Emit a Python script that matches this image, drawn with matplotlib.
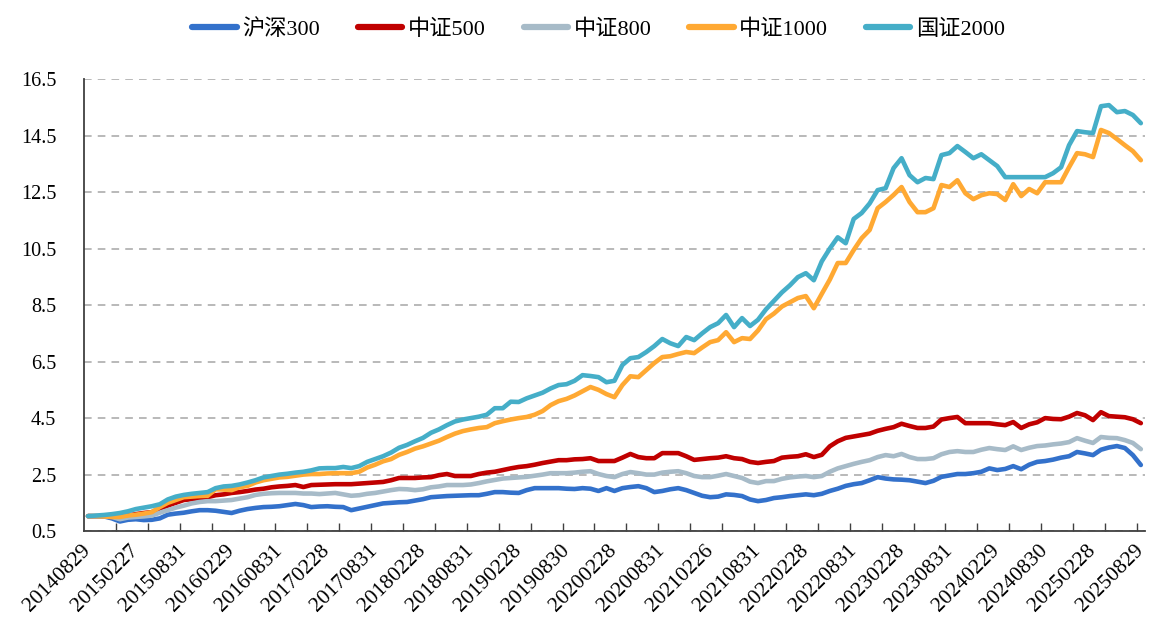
import matplotlib
matplotlib.use('Agg')
import matplotlib.pyplot as plt
from matplotlib.ticker import FixedLocator

plt.rcParams['font.family'] = ['Liberation Serif', 'Noto Sans CJK SC']
plt.rcParams['axes.unicode_minus'] = False

# 月度净值（2014-08-29 ~ 2025-08-29，共133个月末）
tick_labels = ['20140829', '20150227', '20150831', '20160229', '20160831', '20170228',
               '20170831', '20180228', '20180831', '20190228', '20190830', '20200228',
               '20200831', '20210226', '20210831', '20220228', '20220831', '20230228',
               '20230831', '20240229', '20240830', '20250228', '20250829']

hs300 = [1.03, 1.02, 1.02, 0.95, 0.84, 0.90, 0.92, 0.89, 0.90, 0.95, 1.08, 1.12, 1.15, 1.20, 1.24, 1.24,
         1.22, 1.18, 1.14, 1.22, 1.28, 1.32, 1.35, 1.36, 1.38, 1.42, 1.46, 1.42, 1.35, 1.37, 1.38, 1.36,
         1.35, 1.24, 1.30, 1.36, 1.42, 1.48, 1.50, 1.52, 1.53, 1.58, 1.63, 1.70, 1.72, 1.74, 1.75, 1.76,
         1.77, 1.77, 1.82, 1.88, 1.88, 1.86, 1.85, 1.95, 2.02, 2.02, 2.02, 2.02, 2.00, 1.99, 2.02, 2.00,
         1.92, 2.02, 1.92, 2.02, 2.06, 2.09, 2.02, 1.88, 1.92, 1.98, 2.02, 1.95, 1.85, 1.75, 1.70, 1.72,
         1.80, 1.78, 1.74, 1.62, 1.56, 1.60, 1.67, 1.70, 1.74, 1.77, 1.80, 1.77, 1.82, 1.92, 2.00, 2.10,
         2.16, 2.20, 2.30, 2.41, 2.36, 2.33, 2.32, 2.30, 2.25, 2.20, 2.28, 2.42, 2.47, 2.52, 2.52, 2.55,
         2.60, 2.72, 2.66, 2.70, 2.80, 2.69, 2.85, 2.95, 2.98, 3.03, 3.10, 3.15, 3.30, 3.25, 3.19, 3.38,
         3.46, 3.51, 3.44, 3.19, 2.84]

zz500 = [1.03, 1.03, 1.02, 1.00, 1.00, 1.05, 1.10, 1.14, 1.17, 1.30, 1.40, 1.50, 1.60, 1.63, 1.67, 1.70,
         1.77, 1.80, 1.85, 1.88, 1.92, 1.97, 2.00, 2.05, 2.08, 2.10, 2.13, 2.06, 2.13, 2.14, 2.15, 2.16,
         2.16, 2.16, 2.18, 2.20, 2.22, 2.24, 2.30, 2.38, 2.38, 2.38, 2.40, 2.41, 2.48, 2.52, 2.45, 2.45,
         2.45, 2.52, 2.57, 2.60, 2.66, 2.72, 2.77, 2.80, 2.85, 2.91, 2.96, 3.01, 3.01, 3.04, 3.05, 3.08,
         2.98, 2.98, 2.98, 3.10, 3.23, 3.12, 3.08, 3.08, 3.26, 3.26, 3.26, 3.15, 3.02, 3.05, 3.08, 3.10,
         3.15, 3.08, 3.05, 2.95, 2.91, 2.95, 2.98, 3.10, 3.13, 3.15, 3.22, 3.12, 3.20, 3.50, 3.68, 3.80,
         3.85, 3.90, 3.95, 4.05, 4.12, 4.18, 4.30, 4.22, 4.15, 4.15, 4.20, 4.45, 4.50, 4.54, 4.32, 4.32,
         4.32, 4.32, 4.28, 4.25, 4.36, 4.15, 4.28, 4.35, 4.50, 4.47, 4.46, 4.55, 4.68, 4.60, 4.43, 4.71,
         4.57, 4.55, 4.53, 4.46, 4.32]

zz800 = [1.03, 1.02, 1.02, 1.00, 0.92, 0.98, 1.00, 1.02, 1.05, 1.15, 1.24, 1.33, 1.40, 1.48, 1.53, 1.56,
         1.56, 1.58, 1.60, 1.65, 1.70, 1.78, 1.82, 1.84, 1.85, 1.85, 1.85, 1.83, 1.83, 1.81, 1.83, 1.85,
         1.80, 1.75, 1.77, 1.82, 1.85, 1.90, 1.95, 1.99, 1.98, 1.95, 1.98, 2.05, 2.08, 2.13, 2.13, 2.13,
         2.15, 2.20, 2.26, 2.31, 2.36, 2.38, 2.40, 2.42, 2.46, 2.50, 2.55, 2.55, 2.55, 2.57, 2.60, 2.62,
         2.52, 2.45, 2.41, 2.52, 2.59, 2.55, 2.50, 2.50, 2.57, 2.60, 2.62, 2.55, 2.45, 2.41, 2.41, 2.46,
         2.52, 2.45, 2.38, 2.25, 2.20, 2.27, 2.27, 2.35, 2.40, 2.43, 2.45, 2.41, 2.45, 2.60, 2.72, 2.80,
         2.88, 2.95, 3.01, 3.12, 3.19, 3.15, 3.23, 3.12, 3.05, 3.05, 3.08, 3.22, 3.30, 3.33, 3.30, 3.30,
         3.38, 3.44, 3.40, 3.37, 3.50, 3.37, 3.45, 3.51, 3.53, 3.57, 3.60, 3.65, 3.79, 3.70, 3.62, 3.83,
         3.80, 3.79, 3.72, 3.62, 3.40]

zz1000 = [1.03, 1.03, 1.02, 1.00, 1.00, 1.05, 1.08, 1.12, 1.17, 1.35, 1.50, 1.60, 1.70, 1.72, 1.74, 1.75,
          1.98, 1.97, 1.95, 2.05, 2.10, 2.22, 2.30, 2.35, 2.40, 2.42, 2.46, 2.50, 2.52, 2.52, 2.54, 2.55,
          2.55, 2.55, 2.60, 2.75, 2.85, 2.97, 3.05, 3.20, 3.30, 3.42, 3.50, 3.60, 3.70, 3.83, 3.95, 4.04,
          4.10, 4.15, 4.18, 4.32, 4.39, 4.45, 4.50, 4.54, 4.62, 4.75, 4.96, 5.10, 5.18, 5.30, 5.45, 5.60,
          5.50, 5.35, 5.24, 5.67, 5.98, 5.95, 6.20, 6.45, 6.66, 6.69, 6.77, 6.84, 6.80, 7.00, 7.19, 7.26,
          7.54, 7.19, 7.33, 7.30, 7.60, 8.00, 8.20, 8.45, 8.60, 8.75, 8.82, 8.39, 8.90, 9.40, 9.99, 9.99,
          10.45, 10.87, 11.16, 11.93, 12.15, 12.40, 12.68, 12.15, 11.79, 11.79, 11.93, 12.75, 12.68, 12.92,
          12.46, 12.25, 12.39, 12.46, 12.43, 12.22, 12.78, 12.36, 12.61, 12.46, 12.85, 12.85, 12.85, 13.38,
          13.88, 13.84, 13.74, 14.70, 14.59, 14.38, 14.16, 13.95, 13.63]

gz2000 = [1.03, 1.05, 1.07, 1.10, 1.14, 1.20, 1.28, 1.33, 1.38, 1.45, 1.62, 1.72, 1.78, 1.82, 1.85, 1.88,
          2.02, 2.08, 2.10, 2.15, 2.22, 2.30, 2.40, 2.45, 2.50, 2.53, 2.57, 2.60, 2.65, 2.72, 2.73, 2.73,
          2.77, 2.73, 2.80, 2.95, 3.05, 3.15, 3.28, 3.45, 3.55, 3.68, 3.80, 3.98, 4.10, 4.25, 4.38, 4.45,
          4.50, 4.55, 4.62, 4.85, 4.85, 5.08, 5.07, 5.20, 5.30, 5.40, 5.55, 5.67, 5.70, 5.82, 6.02, 5.99,
          5.95, 5.77, 5.82, 6.38, 6.62, 6.66, 6.84, 7.05, 7.30, 7.15, 7.05, 7.37, 7.26, 7.50, 7.72, 7.86,
          8.15, 7.72, 8.04, 7.76, 7.98, 8.35, 8.65, 8.95, 9.20, 9.49, 9.63, 9.38, 10.05, 10.50, 10.90, 10.69,
          11.55, 11.76, 12.10, 12.57, 12.64, 13.35, 13.70, 13.10, 12.85, 13.00, 12.96, 13.81, 13.88, 14.13,
          13.92, 13.70, 13.84, 13.63, 13.42, 13.03, 13.03, 13.03, 13.03, 13.03, 13.03, 13.17, 13.38, 14.16,
          14.66, 14.62, 14.59, 15.54, 15.58, 15.33, 15.37, 15.23, 14.94]

series = [('沪深300', hs300, '#3371CB'),
          ('中证500', zz500, '#C00000'),
          ('中证800', zz800, '#A7BBC8'),
          ('中证1000', zz1000, '#FFA933'),
          ('国证2000', gz2000, '#45AEC8')]

fig = plt.figure(figsize=(11.67, 6.33), dpi=100)
ax = fig.add_axes([0.072, 0.161, 0.909, 0.714])

x = list(range(len(hs300)))
for name, vals, color in series:
    ax.plot(x, vals, color=color, lw=3.3, label=name, solid_capstyle='round')

ax.set_xlim(-0.5, len(x) - 0.5)
ax.set_ylim(0.5, 16.5)
ax.set_yticks([0.5 + 2 * k for k in range(9)])
ax.set_yticklabels([f'{0.5 + 2 * k:.1f}' for k in range(9)], fontsize=14.5)
ax.tick_params(axis='y', length=0, pad=20)

# 标签每6个月一个，刻度线每4个月一个
ax.set_xticks(list(range(0, len(x), 6)))
ax.set_xticklabels(tick_labels, rotation=45, ha='right', va='center',
                   rotation_mode='anchor', fontsize=15.5)
ax.tick_params(axis='x', which='major', length=0, pad=12)
ax.xaxis.set_minor_locator(FixedLocator([-0.5 + 4 * k for k in range(1, 34)]))
ax.tick_params(axis='x', which='minor', direction='in', length=6, width=1, color='#404040')

ax.grid(axis='y', color='#A6A6A6', linestyle=(0, (5, 4)), lw=1.1)
ax.set_axisbelow(True)
for s in ['top', 'right']:
    ax.spines[s].set_visible(False)
for s in ['left', 'bottom']:
    ax.spines[s].set_color('#404040')
    ax.spines[s].set_linewidth(1.3)

leg = ax.legend(loc='center', bbox_to_anchor=(0.513, 0.954), bbox_transform=fig.transFigure,
                ncol=5, frameon=False, fontsize=16, handlelength=2.0, columnspacing=1.7,
                handletextpad=0.25)
for h in leg.get_lines():
    h.set_linewidth(4.5)

fig.savefig('out.png', dpi=100)
